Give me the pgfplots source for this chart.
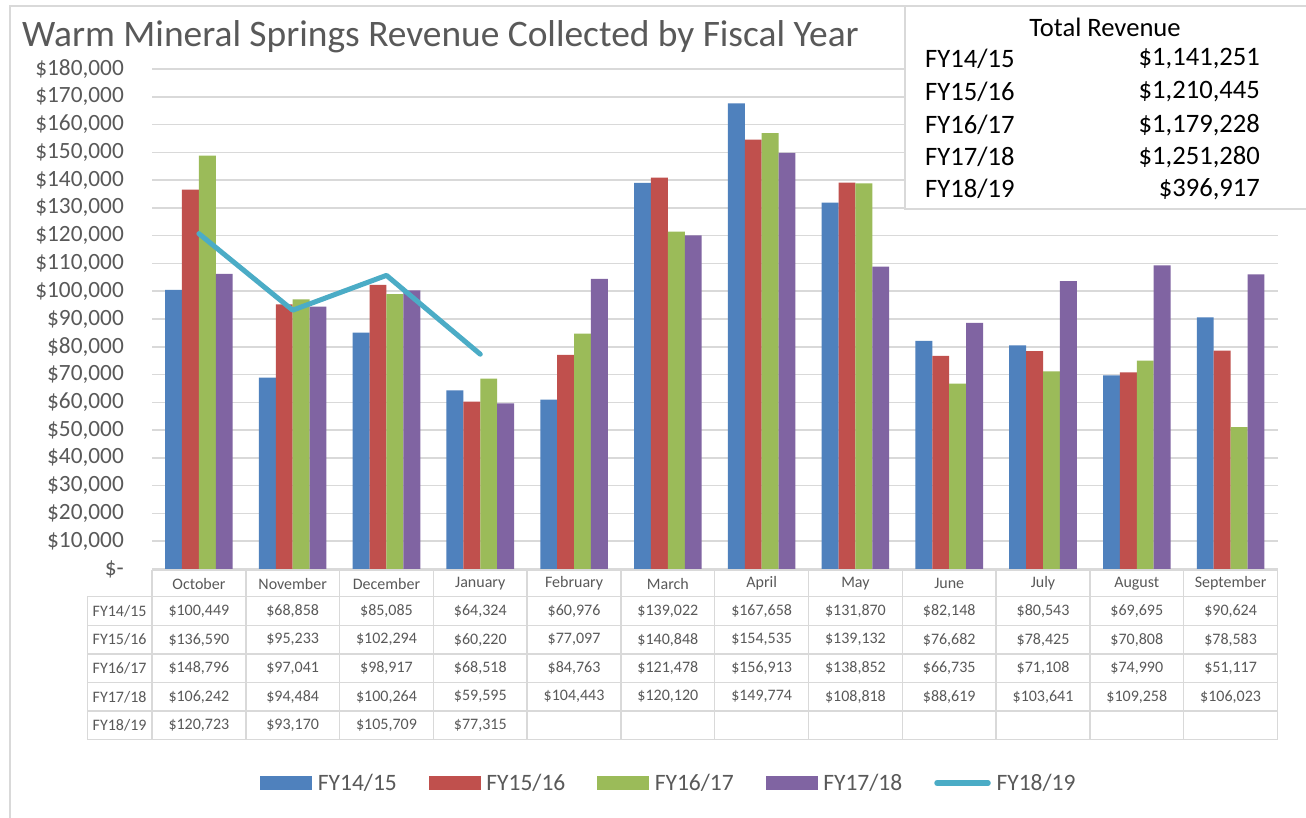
\documentclass[border=0pt]{standalone}
\usepackage{pgfplots}
\pgfplotsset{compat=1.18}
\usepackage{pgfplotstable}
\usepackage{fontspec}
\setmainfont{Carlito}
\definecolor{cA}{HTML}{4F81BD}
\definecolor{cB}{HTML}{C0504D}
\definecolor{cC}{HTML}{9BBB59}
\definecolor{cD}{HTML}{8064A2}
\definecolor{cE}{HTML}{4BACC6}
\definecolor{txt}{HTML}{595959}
\definecolor{gridc}{HTML}{D9D9D9}

\pgfplotstableread{
x a b c d e
0 100449 136590 148796 106242 120723
1 68858 95233 97041 94484 93170
2 85085 102294 98917 100264 105709
3 64324 60220 68518 59595 77315
4 60976 77097 84763 104443 nan
5 139022 140848 121478 120120 nan
6 167658 154535 156913 149774 nan
7 131870 139132 138852 108818 nan
8 82148 76682 66735 88619 nan
9 80543 78425 71108 103641 nan
10 69695 70808 74990 109258 nan
11 90624 78583 51117 106023 nan
}\revdata

\newcommand\months{October,November,December,January,February,March,April,May,June,July,August,September}
\newcommand\rowA{{100,449},{68,858},{85,085},{64,324},{60,976},{139,022},{167,658},{131,870},{82,148},{80,543},{69,695},{90,624}}
\newcommand\rowB{{136,590},{95,233},{102,294},{60,220},{77,097},{140,848},{154,535},{139,132},{76,682},{78,425},{70,808},{78,583}}
\newcommand\rowC{{148,796},{97,041},{98,917},{68,518},{84,763},{121,478},{156,913},{138,852},{66,735},{71,108},{74,990},{51,117}}
\newcommand\rowD{{106,242},{94,484},{100,264},{59,595},{104,443},{120,120},{149,774},{108,818},{88,619},{103,641},{109,258},{106,023}}
\newcommand\rowE{{120,723},{93,170},{105,709},{77,315}}

\pgfplotsset{
  barleg/.style={legend image code/.code={\fill[##1,/tikz/.cd,draw=none] (0pt,-7.2pt) rectangle (52pt,7.2pt); \path (55.5pt,0pt);}},
}

\begin{document}
\begin{tikzpicture}
\clip (0,0) rectangle (1306pt,818pt);
\fill[white] (0,0) rectangle (1306pt,818pt);
\begin{scope}[x=1pt,y=-1pt,yshift=818pt]
  % chart border
  \draw[gridc,line width=1.5pt] (10,840) -- (10,6) -- (1320,6);
  % title
  \node[anchor=base west,inner sep=0pt,text=txt,font=\fontsize{37.4}{42}\selectfont] at (22,46.5) {Warm Mineral Springs Revenue Collected by Fiscal Year};
  % data table grid
  \begin{scope}[gridc,line width=1.5pt]
    \draw (152,570) -- (1277.5,570);
    \foreach \yy in {596.7,625.3,654,682.7,711,739.3} \draw (87.3,\yy) -- (1277.5,\yy);
    \draw (87.3,596.7) -- (87.3,739.3);
    \foreach \k in {0,...,12} \draw ({152+93.79*\k},570) -- ({152+93.79*\k},739.3);
  \end{scope}
  \begin{scope}[text=txt,font=\fontsize{16}{19}\selectfont,inner sep=0pt]
    \foreach \m [count=\c from 0] in \months \node at ({198.9+93.79*\c},583.6) {\m};
    \node at (119.6,611) {FY14/15};
    \node at (119.6,639.7) {FY15/16};
    \node at (119.6,668.3) {FY16/17};
    \node at (119.6,696.8) {FY17/18};
    \node at (119.6,725.2) {FY18/19};
    \foreach \v [count=\c from 0] in \rowA \node at ({198.9+93.79*\c},611) {\$\v};
    \foreach \v [count=\c from 0] in \rowB \node at ({198.9+93.79*\c},639.7) {\$\v};
    \foreach \v [count=\c from 0] in \rowC \node at ({198.9+93.79*\c},668.3) {\$\v};
    \foreach \v [count=\c from 0] in \rowD \node at ({198.9+93.79*\c},696.8) {\$\v};
    \foreach \v [count=\c from 0] in \rowE \node at ({198.9+93.79*\c},725.2) {\$\v};
  \end{scope}
\end{scope}

\begin{axis}[
  at={(152pt,249pt)}, anchor=south west,
  width=1125.5pt, height=500pt, scale only axis,
  xmin=-0.5, xmax=11.5, ymin=0, ymax=180000,
  axis line style={draw=none},
  xtick=\empty,
  ytick={0,10000,...,180000},
  scaled y ticks=false,
  yticklabels={{\$-},{\$10,000},{\$20,000},{\$30,000},{\$40,000},{\$50,000},{\$60,000},{\$70,000},{\$80,000},{\$90,000},{\$100,000},{\$110,000},{\$120,000},{\$130,000},{\$140,000},{\$150,000},{\$160,000},{\$170,000},{\$180,000}},
  yticklabel style={anchor=east,inner sep=0pt,xshift=-28pt,text=txt,font=\fontsize{23.3}{26}\selectfont},
  major tick length=0pt,
  ymajorgrids,
  major grid style={gridc,line width=1.5pt},
  legend columns=5,
  legend style={at={(0.4593,-0.428)},anchor=center,draw=none,fill=none,
    font=\fontsize{23.5}{27}\selectfont,text=txt,
    /tikz/every even column/.append style={column sep=30pt}},
  legend cell align=left,
]
\addplot[ybar,bar width=16.9pt,bar shift=-25.35pt,fill=cA,draw=none,barleg] table[x=x,y=a]{\revdata};
\addlegendentry{FY14/15}
\addplot[ybar,bar width=16.9pt,bar shift=-8.45pt,fill=cB,draw=none,barleg] table[x=x,y=b]{\revdata};
\addlegendentry{FY15/16}
\addplot[ybar,bar width=16.9pt,bar shift=8.45pt,fill=cC,draw=none,barleg] table[x=x,y=c]{\revdata};
\addlegendentry{FY16/17}
\addplot[ybar,bar width=16.9pt,bar shift=25.35pt,fill=cD,draw=none,barleg] table[x=x,y=d]{\revdata};
\addlegendentry{FY17/18}
\addplot[cE,line width=5pt,line cap=round,line join=round,mark=none,
  legend image code/.code={\draw[cE,line width=5.5pt,line cap=round] (3pt,0pt) -- (54pt,0pt); \path (58pt,0pt);}]
  table[x=x,y=e]{\revdata};
\addlegendentry{FY18/19}
\end{axis}

\begin{scope}[x=1pt,y=-1pt,yshift=818pt]
  \filldraw[fill=white,draw=gridc,line width=1.5pt] (905,6) rectangle (1320,209);
  \begin{scope}[font=\fontsize{26.6}{30}\selectfont,inner sep=0pt]
    \node at (1105,27) {Total Revenue};
    \node[anchor=west] at (925,59) {FY14/15};
    \node[anchor=west] at (925,92) {FY15/16};
    \node[anchor=west] at (925,125) {FY16/17};
    \node[anchor=west] at (925,157) {FY17/18};
    \node[anchor=west] at (925,189) {FY18/19};
    \node[anchor=east] at (1260,59) {\$1,141,251};
    \node[anchor=east] at (1260,92) {\$1,210,445};
    \node[anchor=east] at (1260,125) {\$1,179,228};
    \node[anchor=east] at (1260,157) {\$1,251,280};
    \node[anchor=east] at (1260,189) {\$396,917};
  \end{scope}
\end{scope}
\end{tikzpicture}
\end{document}
